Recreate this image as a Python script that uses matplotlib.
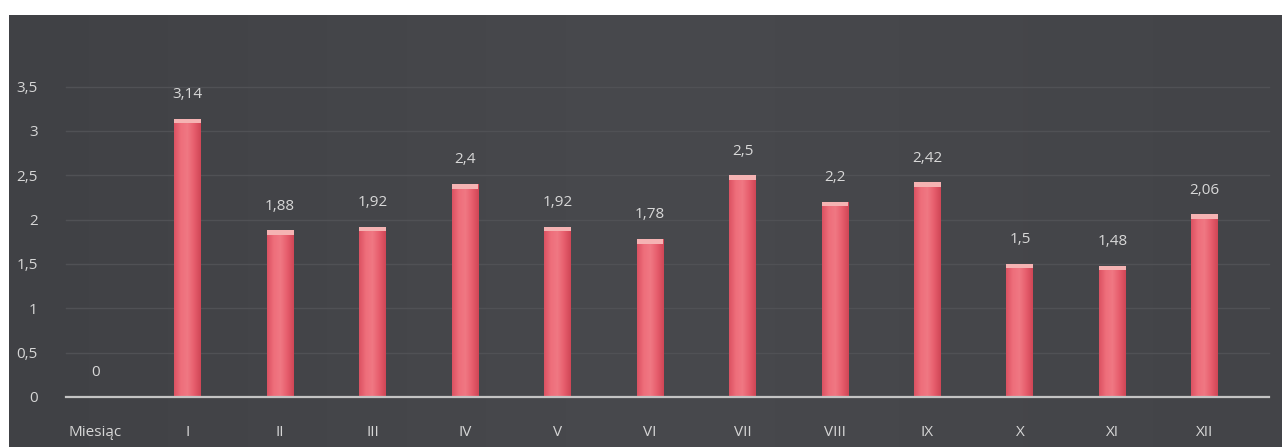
import matplotlib
matplotlib.use("Agg")
import matplotlib.pyplot as plt
import numpy as np
from matplotlib.patches import Rectangle
from matplotlib.colors import LinearSegmentedColormap

categories = ["Miesiąc", "I", "II", "III", "IV", "V", "VI", "VII", "VIII", "IX", "X", "XI", "XII"]
values = [0, 3.14, 1.88, 1.92, 2.4, 1.92, 1.78, 2.5, 2.2, 2.42, 1.5, 1.48, 2.06]
labels = ["0", "3,14", "1,88", "1,92", "2,4", "1,92", "1,78", "2,5", "2,2", "2,42", "1,5", "1,48", "2,06"]
yticks = [0, 0.5, 1, 1.5, 2, 2.5, 3, 3.5]
yticklabels = ["0", "0,5", "1", "1,5", "2", "2,5", "3", "3,5"]

plt.rcParams['font.family'] = ['Open Sans', 'DejaVu Sans']
W, H = 1282, 447
fig = plt.figure(figsize=(W / 100, H / 100), dpi=100)
fig.patch.set_facecolor("white")

# dark chart frame
bg = fig.add_axes([9 / W, 0, 1 - 9 / W, 1 - 15 / H])
grad = np.linspace(0, 1, 256).reshape(1, -1)
bgcmap = LinearSegmentedColormap.from_list("bg", ["#404145", "#48494d", "#434448"])
bg.imshow(grad, aspect="auto", cmap=bgcmap, extent=[0, 1, 0, 1])
bg.set_axis_off()

ax = fig.add_axes([49 / W, (H - 397) / H, 1202 / W, (397 - 60) / H])
ax.set_facecolor("none")
x = np.arange(len(categories))

for yt in yticks[1:]:
    ax.axhline(yt, xmin=0.014, xmax=1.015, color="#505155", lw=1.0, zorder=0, clip_on=False)

bw = 0.29
bars = ax.bar(x, values, width=bw, color="#e65e6c", zorder=2)
cmap = LinearSegmentedColormap.from_list("bar", ["#dc5262", "#ee6e7b", "#f07883", "#e75e6d", "#d04656"])
for b in bars:
    h = b.get_height()
    if h <= 0:
        continue
    x0 = b.get_x()
    w = b.get_width()
    im = ax.imshow(np.linspace(0, 1, 64).reshape(1, -1), cmap=cmap, aspect="auto",
                   extent=[x0, x0 + w, 0, h], zorder=2.5)
    im.set_clip_path(b)
    cap = Rectangle((x0, h - 0.05), w, 0.05, facecolor="#f5b3b3", edgecolor="none", zorder=3)
    ax.add_patch(cap)
ax.set_xlim(-0.5, len(categories) - 0.5)
ax.set_ylim(0, 3.8)

for xi, v, lab in zip(x, values, labels):
    ax.annotate(lab, (xi, v), xytext=(0, 12), textcoords="offset points",
                ha="center", va="bottom", color="#d8d8d8", fontsize=11)

ax.axhline(0, xmin=0.014, xmax=1.015, color="#c4c4c4", lw=1.6, zorder=4, clip_on=False)

for s in ax.spines.values():
    s.set_visible(False)
ax.set_xticks(x)
ax.set_xticklabels(categories, color="#d6d6d6", fontsize=11)
ax.set_yticks(yticks)
ax.set_yticklabels(yticklabels, color="#d6d6d6", fontsize=11)
ax.tick_params(axis="both", length=0)
ax.tick_params(axis="x", pad=20)
ax.tick_params(axis="y", pad=8)

fig.savefig("out.png", dpi=100, facecolor=fig.get_facecolor())
